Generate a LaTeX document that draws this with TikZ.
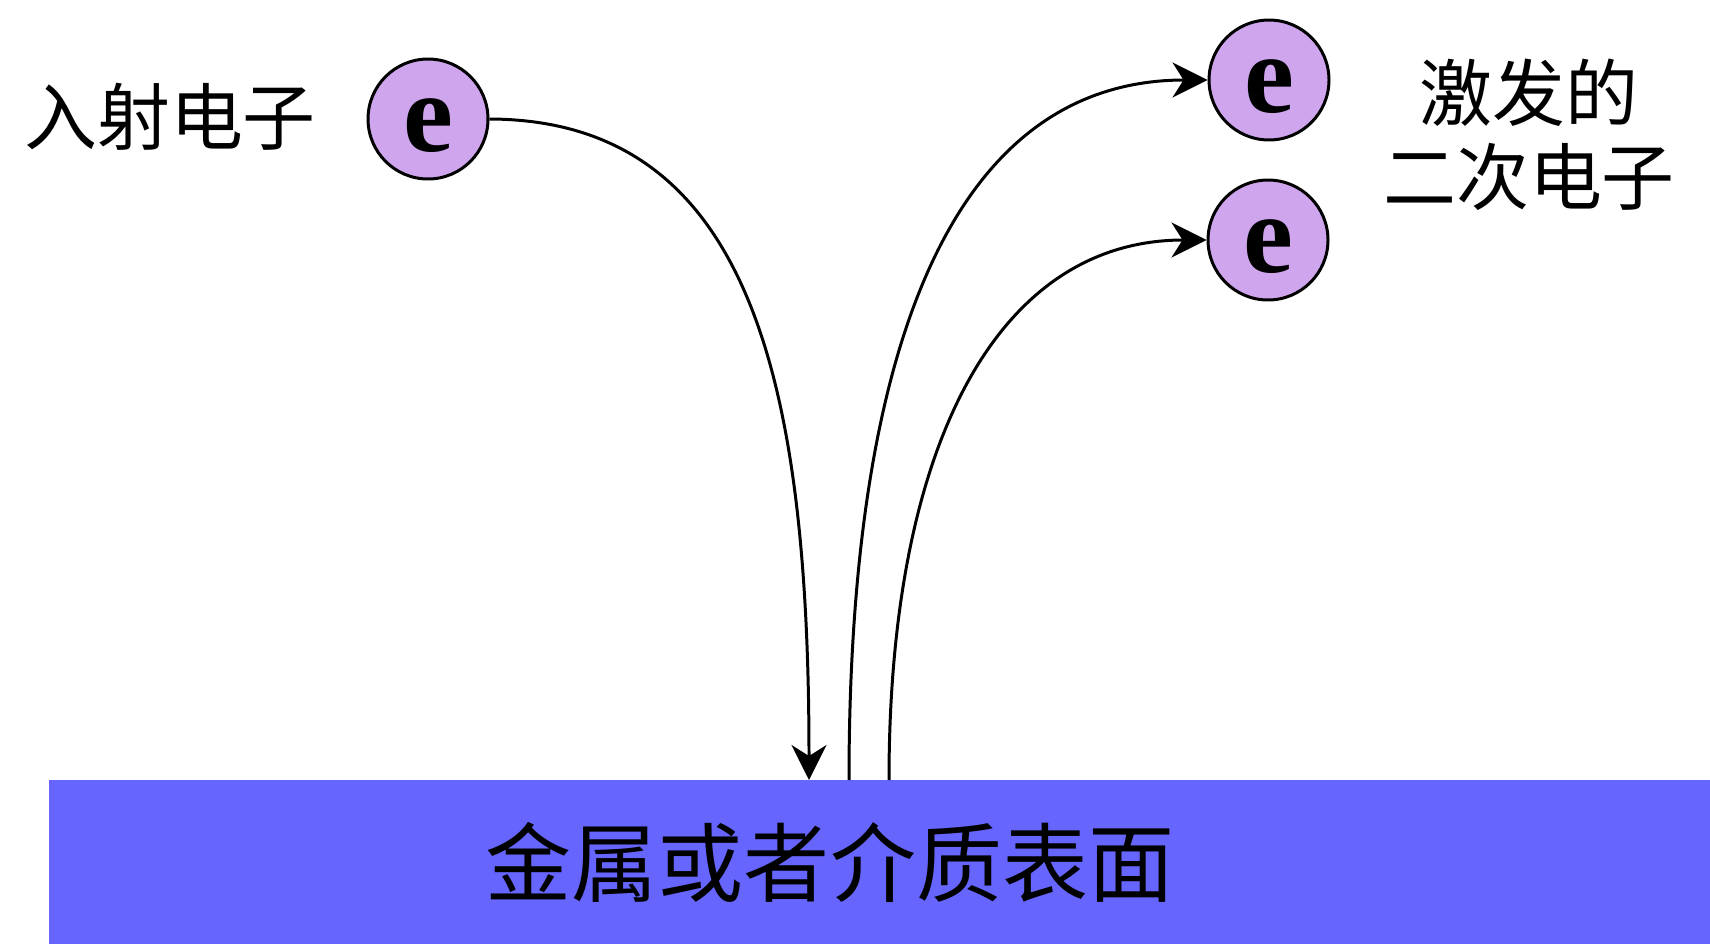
\documentclass[tikz,border=0pt]{standalone}
\usepackage{fontspec}
\setmainfont{Liberation Serif}
\newfontfamily\efont{Liberation Serif}[BoldFont={* Bold}]
\newfontfamily\cjk{Noto Sans CJK SC}
\usetikzlibrary{arrows.meta}
\definecolor{efill}{HTML}{CFA6EE}
\definecolor{surfblue}{HTML}{6666FF}
\tikzset{
  electron/.style={circle, draw=black, line width=1.7pt, fill=efill, minimum size=2.4cm, inner sep=0pt,
    text height=1.3cm, text depth=0cm, font=\efont\bfseries\fontsize{64}{64}\selectfont},
  path/.style={line width=1.7pt, draw=black},
  arr/.style={path, -{Stealth[length=0.7cm, width=0.7cm, inset=0.22cm]}},
  lbl/.style={font=\cjk\fontsize{41.5}{50}\selectfont, align=center, inner sep=0pt},
}
\begin{document}
\begin{tikzpicture}[x=0.02cm, y=-0.02cm]
\useasboundingbox (0,0) rectangle (1710,944);
\node[fill=surfblue, anchor=north west, minimum width=33.22cm, minimum height=3.28cm, inner sep=0pt] (surf) at (49,780) {};
\node[lbl, font=\cjk\fontsize{49}{50}\selectfont] (stxt) at (830,862) {金属或者介质表面};
\node[electron] (inc) at (428,119) {e};
\node[electron] (e1) at (1269,80) {e};
\node[electron] (e2) at (1268,240) {e};
\node[lbl] (inctxt) at (170,117) {入射电子};
\node[lbl] (sectxt) at (1529,135) {激发的\\[-2pt]二次电子};
\coordinate (hit) at (809,780);
\coordinate (s1) at (849,780);
\coordinate (s2) at (889,780);
\draw[arr] (inc.east) .. controls (750,120) and (809,380) .. (hit);
\draw[arr] (s1) .. controls (849,330) and (960,80) .. (e1.west);
\draw[arr] (s2) .. controls (889,440) and (1000,240) .. (e2.west);
\end{tikzpicture}
\end{document}
